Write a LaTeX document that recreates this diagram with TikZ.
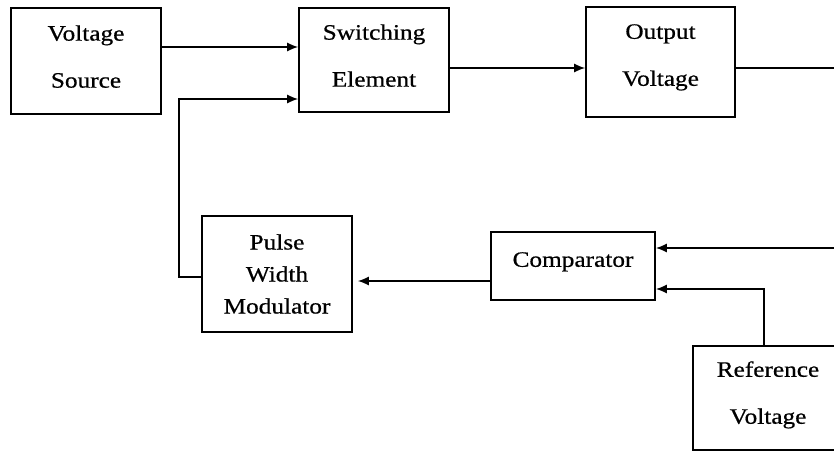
\documentclass[tikz,border=0pt]{standalone}
\usepackage{fontspec}
\setmainfont{Liberation Serif}[FakeStretch=1.15,FakeBold=0.6]
\usepackage{tikz}
\usetikzlibrary{arrows.meta,positioning,calc}
\tikzset{
  doboz/.style={draw,line width=1.6pt,inner sep=0pt,align=center,
                minimum width=150pt,minimum height=106pt},
  jel/.style={line width=1.6pt,-{Latex[length=11pt,width=9pt]}},
  vonal/.style={line width=1.6pt},
}

\begin{document}
\begin{tikzpicture}[x=1pt,y=-1pt,font=\fontsize{22}{26}\selectfont]
  \useasboundingbox (0,0) rectangle (834,452);
  % felso sor
  \node[doboz,text depth=9pt] (forras) at (86,61) {Voltage\\[21pt]Source};
  \node[doboz,minimum height=104pt,text depth=9pt] (kapcs) at (374,60) {Switching\\[21pt]Element};
  \node[doboz,minimum width=149pt,minimum height=110pt,text depth=14pt] (kimenet) at (660.5,62) {Output\\[21pt]Voltage};
  % also sor
  \node[doboz,minimum height=116pt] (pwm) at (277,274) {Pulse\\[6pt]Width\\[6pt]Modulator};
  \node[doboz,minimum width=164pt,minimum height=68pt] (komp) at (573,266) {\raisebox{13pt}{Comparator}};
  \node[doboz,minimum height=104pt,text depth=11pt] (ref) at (768,398) {Reference\\[21pt]Voltage};
  \coordinate (jobbfent) at (836,68);
  \coordinate (jobblent) at (836,248);
  % nyilak
  \draw[jel] (forras.east|-0,47) -- (kapcs.west|-0,47);
  \draw[jel] (kapcs.east|-0,68) -- (kimenet.west|-0,68);
  \draw[vonal] (kimenet.east|-jobbfent) -- (jobbfent) -- (jobblent);
  \draw[jel] (jobblent) -- (komp.east|-jobblent);
  \draw[jel] (ref.north-|764,0) |- (komp.east|-0,289);
  \draw[jel,shorten >=5pt] (komp.west|-0,281) -- (pwm.east|-0,281);
  \draw[jel] (pwm.west|-0,277) -- ++(-22,0) |- (kapcs.west|-0,99);
\end{tikzpicture}
\end{document}
